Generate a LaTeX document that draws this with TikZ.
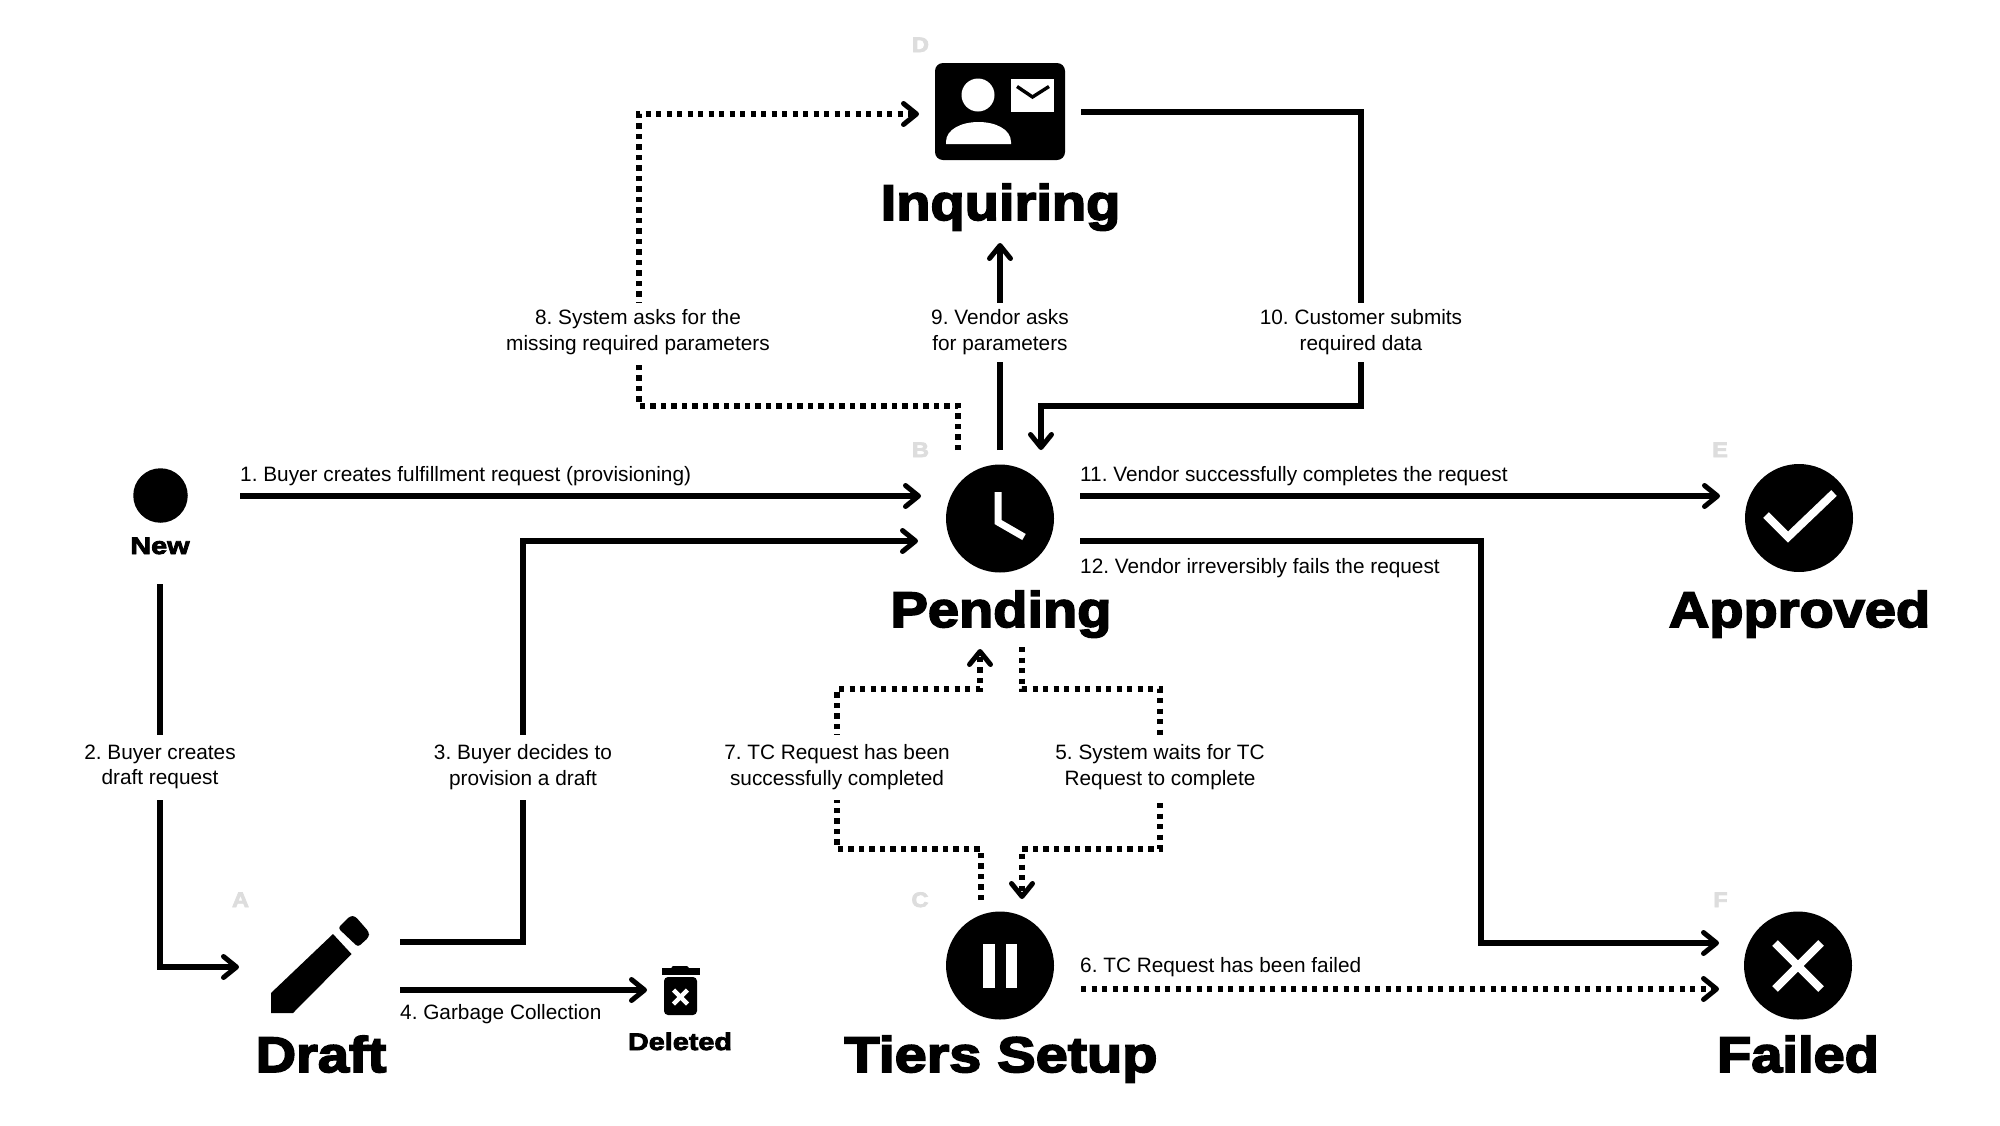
\documentclass[tikz,border=0pt]{standalone}
\usepackage{fontspec}
\setmainfont{Liberation Sans}
\newfontfamily\blk[UprightFont=* Bold,FakeBold=3.5,FakeStretch=1.12]{Liberation Sans}
\newfontfamily\blks[UprightFont=* Bold,FakeBold=3.5,FakeStretch=1.2]{Liberation Sans}
\usetikzlibrary{arrows.meta}
\definecolor{letter}{HTML}{DDDDDD}
\tikzset{
  x=1pt,y=-1pt,
  tipbarb/.tip={Straight Barb[length=13pt,width=21pt,round,line width=5pt]},
  conn/.style={line width=5.2pt,line join=miter,-tipbarb},
  dotconn/.style={conn,dash pattern=on 5.2pt off 5.3pt},
  edgelabel/.style={fill=white,inner xsep=6pt,inner ysep=7pt,align=center,font=\fontsize{20.8}{25.6}\selectfont},
  tallabel/.style={edgelabel,minimum height=65pt},
  sidelabel/.style={anchor=base west,inner sep=0pt,font=\fontsize{20.8}{25.6}\selectfont},
  title/.style={anchor=base,inner sep=0pt,font=\blk\fontsize{50}{50}\selectfont},
  smalltitle/.style={anchor=base,inner sep=0pt,font=\blks\fontsize{24}{24}\selectfont},
  letterlabel/.style={anchor=base,inner sep=0pt,text=letter,font=\blk\fontsize{21}{21}\selectfont},
  discicon/.style={circle,fill=black,inner sep=0pt,minimum size=#1},
  glyph/.style={white,line width=8pt,line cap=butt},
}
\begin{document}
\frenchspacing
\begin{tikzpicture}
\useasboundingbox (0,0) rectangle (2000,1125);
\fill[white] (0,0) rectangle (2000,1125);

% ---- state icons
\node[discicon=54.5pt] (new) at (160.5,495.5) {};
\node[discicon=108pt] (pending) at (1000,518.5) {};
\node[discicon=108pt] (tiers) at (1000,965.5) {};
\node[discicon=108pt] (approved) at (1799,518) {};
\node[discicon=108pt] (failed) at (1798,965.5) {};
\node[rectangle,fill=black,rounded corners=8pt,inner sep=0pt,minimum width=130pt,minimum height=97pt] (inquiring) at (1000,111.5) {};

% Inquiring glyphs
\node[discicon=33pt,fill=white] (head) at (978,95) {};
\fill[white] (946,144) -- (946,142) .. controls (946,129) and (962,122) .. (978.5,122) .. controls (995,122) and (1011,129) .. (1011,142) -- (1011,144) -- cycle;
\fill[white] (1011,79) rectangle (1054,112);
\draw[black,line width=3.4pt,line cap=butt,line join=miter] (1017,86.5) -- (1032.5,97) -- (1049,86.5);

% clock
\draw[white,line width=7pt,line join=miter] (998,492) -- (998,522) -- (1024,537);
% pause
\fill[white] (983,944) rectangle (995,988);
\fill[white] (1006,944) rectangle (1017,988);
% check
\draw[glyph,line join=miter] (1766,515) -- (1788,537) -- (1834,493);
% cross
\draw[glyph] (1775,943) -- (1821,989);
\draw[glyph] (1821,943) -- (1775,989);

% pencil
\fill[black] (271,1013) -- (271,993) -- (333,934) -- (351.5,954) -- (293,1013) -- cycle;
\fill[black,rounded corners=3pt] (338,928) -- (350,916) -- (355,916) -- (369,932) -- (369,937) -- (358,947) -- cycle;

% trash
\fill[black] (661.5,968) rectangle (699.5,975);
\fill[black,rounded corners=2pt] (671.5,969) -- (671.5,966) -- (688.5,966) -- (688.5,969) -- cycle;
\fill[black,rounded corners=4pt] (664,977) -- (697,977) -- (697,1015) -- (664,1015) -- cycle;
\draw[white,line width=4.5pt] (673.5,990) -- (687.5,1004);
\draw[white,line width=4.5pt] (687.5,990) -- (673.5,1004);

% ---- titles
\node[title] (tInquiring) at (1000.5,220) {Inquiring};
\node[title] (tPending) at (1001,627) {Pending};
\node[title] (tApproved) at (1799.5,627) {Approved};
\node[title] (tDraft) at (321,1072) {Draft};
\node[title,xscale=1.03,transform shape] (tTiers) at (1001,1072) {Tiers Setup};
\node[title] (tFailed) at (1798,1072) {Failed};
\node[smalltitle] (tNew) at (160,554) {New};
\node[smalltitle] (tDeleted) at (680,1050) {Deleted};

% ---- letters
\node[letterlabel] (la) at (240.5,907) {A};
\node[letterlabel] (lb) at (920.5,457) {B};
\node[letterlabel] (lc) at (920,907) {C};
\node[letterlabel] (ld) at (920.5,52) {D};
\node[letterlabel] (le) at (1720,457) {E};
\node[letterlabel] (lf) at (1720.5,907) {F};

% ---- ports and bends
\coordinate (c1a) at (240,496);  \coordinate (c1b) at (921,496);
\coordinate (c2a) at (160,584);  \coordinate (c2k) at (160,967); \coordinate (c2b) at (239,967);
\coordinate (c3a) at (400,942);  \coordinate (c3k1) at (523,942); \coordinate (c3k2) at (523,541); \coordinate (c3b) at (918,541);
\coordinate (c4a) at (400,990);  \coordinate (c4b) at (647,990);
\coordinate (c5a) at (1022,647); \coordinate (c5k1) at (1022,689); \coordinate (c5k2) at (1160,689); \coordinate (c5k3) at (1160,849); \coordinate (c5k4) at (1022,849); \coordinate (c5b) at (1022,899);
\coordinate (c6a) at (1081,989); \coordinate (c6b) at (1719,989);
\coordinate (c7a) at (981,900);  \coordinate (c7k1) at (981,849); \coordinate (c7k2) at (837,849); \coordinate (c7k3) at (837,689); \coordinate (c7k4) at (980,689); \coordinate (c7b) at (980,649);
\coordinate (c8a) at (958,450);  \coordinate (c8k1) at (958,406); \coordinate (c8k2) at (639,406); \coordinate (c8k3) at (639,114); \coordinate (c8b) at (919,114);
\coordinate (c9a) at (1000,450); \coordinate (c9b) at (1000,243);
\coordinate (c10a) at (1081,112); \coordinate (c10k1) at (1361,112); \coordinate (c10k2) at (1361,406); \coordinate (c10k3) at (1041,406); \coordinate (c10b) at (1041,450);
\coordinate (c11a) at (1080,496); \coordinate (c11b) at (1720,496);
\coordinate (c12a) at (1080,541); \coordinate (c12k1) at (1481,541); \coordinate (c12k2) at (1481,943); \coordinate (c12b) at (1719,943);

% ---- connectors
\draw[conn] (c1a) -- (c1b);
\draw[conn] (c2a) -- (c2k) -- (c2b);
\draw[conn] (c3a) -- (c3k1) -- (c3k2) -- (c3b);
\draw[conn] (c4a) -- (c4b);
\draw[dotconn] (c5a) -- (c5k1) -- (c5k2) -- (c5k3) -- (c5k4) -- (c5b);
\draw[dotconn] (c6a) -- (c6b);
\draw[dotconn] (c7a) -- (c7k1) -- (c7k2) -- (c7k3) -- (c7k4) -- (c7b);
\draw[dotconn] (c8a) -- (c8k1) -- (c8k2) -- (c8k3) -- (c8b);
\draw[conn] (c9a) -- (c9b);
\draw[conn] (c10a) -- (c10k1) -- (c10k2) -- (c10k3) -- (c10b);
\draw[conn] (c11a) -- (c11b);
\draw[conn] (c12a) -- (c12k1) -- (c12k2) -- (c12b);

% ---- connector labels
\node[sidelabel] (e1) at (240,481) {1. Buyer creates fulfillment request (provisioning)};
\node[tallabel] (e2) at (160,767) {2. Buyer creates\\draft request};
\node[tallabel] (e3) at (523,767) {3. Buyer decides to\\provision a draft};
\node[sidelabel] (e4) at (400,1019) {4. Garbage Collection};
\node[tallabel] (e5) at (1160,767) {5. System waits for TC\\Request to complete};
\node[sidelabel] (e6) at (1080,972) {6. TC Request has been failed};
\node[tallabel] (e7) at (837,767) {7. TC Request has been\\successfully completed};
\node[edgelabel] (e8) at (638,332) {8. System asks for the\\missing required parameters};
\node[edgelabel] (e9) at (1000,332) {9. Vendor asks\\for parameters};
\node[edgelabel] (e10) at (1361,332) {10. Customer submits\\required data};
\node[sidelabel] (e11) at (1080,481) {11. Vendor successfully completes the request};
\node[sidelabel] (e12) at (1080,573) {12. Vendor irreversibly fails the request};
\end{tikzpicture}
\end{document}
